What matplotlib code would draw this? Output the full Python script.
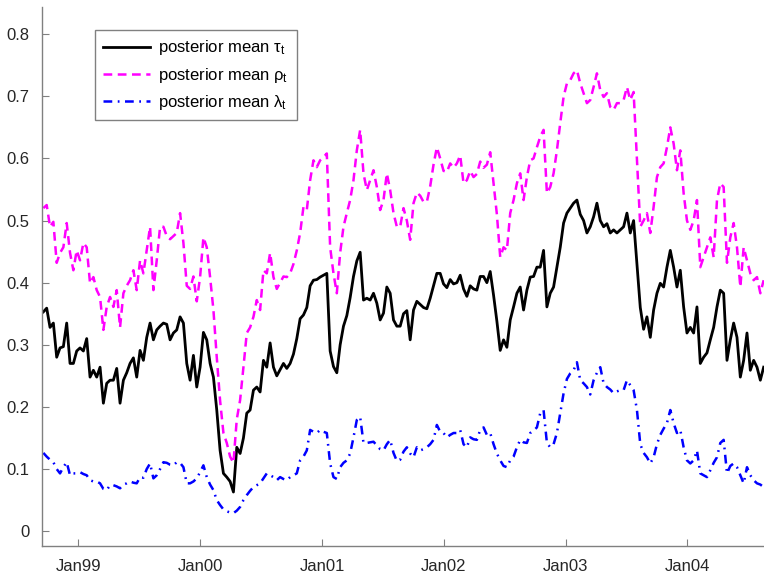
import numpy as np
import pandas as pd
import matplotlib
matplotlib.use("Agg")
import matplotlib.pyplot as plt
import matplotlib.dates as mdates

# posterior means, sampled every 10 days from mid Sep 1998
start = "1998-09-18"

tau = [0.353, 0.359, 0.328, 0.335, 0.280, 0.295, 0.297, 0.335, 0.270, 0.270,
       0.290, 0.295, 0.290, 0.310, 0.248, 0.259, 0.248, 0.264, 0.206, 0.238,
       0.243, 0.243, 0.262, 0.206, 0.243, 0.255, 0.270, 0.279, 0.248, 0.291,
       0.275, 0.312, 0.335, 0.308, 0.324, 0.330, 0.335, 0.333, 0.308, 0.319,
       0.324, 0.345, 0.335, 0.270, 0.243, 0.283, 0.232, 0.264, 0.320, 0.308,
       0.270, 0.248, 0.195, 0.130, 0.093, 0.087, 0.080, 0.063, 0.135, 0.125,
       0.150, 0.190, 0.195, 0.227, 0.232, 0.224, 0.275, 0.264, 0.303, 0.264,
       0.250, 0.260, 0.270, 0.262, 0.270, 0.285, 0.310, 0.342, 0.348, 0.360,
       0.395, 0.404, 0.405, 0.409, 0.412, 0.415, 0.290, 0.265, 0.255, 0.300,
       0.330, 0.347, 0.376, 0.410, 0.435, 0.449, 0.372, 0.375, 0.372, 0.383,
       0.367, 0.340, 0.351, 0.393, 0.383, 0.340, 0.330, 0.330, 0.350, 0.355,
       0.308, 0.356, 0.370, 0.365, 0.360, 0.358, 0.375, 0.395, 0.415, 0.415,
       0.398, 0.392, 0.405, 0.398, 0.400, 0.412, 0.390, 0.378, 0.395, 0.390,
       0.388, 0.410, 0.410, 0.400, 0.418, 0.380, 0.338, 0.291, 0.308, 0.296,
       0.340, 0.361, 0.383, 0.393, 0.356, 0.388, 0.409, 0.410, 0.425, 0.425,
       0.452, 0.361, 0.383, 0.393, 0.425, 0.457, 0.496, 0.512, 0.520, 0.528,
       0.533, 0.510, 0.500, 0.480, 0.490, 0.506, 0.528, 0.500, 0.490, 0.495,
       0.480, 0.485, 0.480, 0.485, 0.490, 0.512, 0.480, 0.500, 0.430, 0.360,
       0.325, 0.345, 0.312, 0.356, 0.383, 0.399, 0.393, 0.425, 0.452, 0.425,
       0.393, 0.420, 0.361, 0.319, 0.328, 0.319, 0.361, 0.270, 0.280, 0.287,
       0.308, 0.328, 0.361, 0.388, 0.383, 0.275, 0.308, 0.335, 0.312, 0.248,
       0.275, 0.319, 0.259, 0.275, 0.264, 0.243, 0.264]

rho = [0.520, 0.525, 0.490, 0.498, 0.432, 0.448, 0.457, 0.496, 0.448, 0.420,
       0.452, 0.436, 0.464, 0.457, 0.399, 0.409, 0.388, 0.377, 0.324, 0.361,
       0.377, 0.361, 0.388, 0.328, 0.383, 0.395, 0.404, 0.420, 0.388, 0.436,
       0.415, 0.452, 0.490, 0.388, 0.436, 0.490, 0.490, 0.475, 0.470, 0.475,
       0.480, 0.512, 0.464, 0.395, 0.390, 0.410, 0.370, 0.409, 0.473, 0.457,
       0.409, 0.356, 0.280, 0.210, 0.158, 0.142, 0.120, 0.110, 0.180, 0.211,
       0.264, 0.319, 0.328, 0.345, 0.372, 0.356, 0.420, 0.415, 0.448, 0.409,
       0.390, 0.400, 0.410, 0.409, 0.415, 0.430, 0.452, 0.480, 0.522, 0.517,
       0.565, 0.597, 0.586, 0.597, 0.602, 0.608, 0.457, 0.415, 0.383, 0.448,
       0.490, 0.512, 0.533, 0.565, 0.613, 0.646, 0.576, 0.549, 0.565, 0.581,
       0.554, 0.517, 0.533, 0.576, 0.549, 0.512, 0.490, 0.490, 0.520, 0.500,
       0.469, 0.528, 0.545, 0.540, 0.530, 0.530, 0.555, 0.590, 0.618, 0.600,
       0.580, 0.578, 0.592, 0.585, 0.592, 0.605, 0.560, 0.565, 0.580, 0.570,
       0.575, 0.595, 0.585, 0.590, 0.610, 0.560, 0.510, 0.441, 0.457, 0.452,
       0.512, 0.533, 0.560, 0.576, 0.533, 0.570, 0.597, 0.600, 0.618, 0.635,
       0.646, 0.544, 0.554, 0.576, 0.613, 0.657, 0.699, 0.721, 0.726, 0.737,
       0.742, 0.721, 0.705, 0.689, 0.694, 0.715, 0.737, 0.710, 0.699, 0.705,
       0.683, 0.678, 0.689, 0.689, 0.694, 0.715, 0.694, 0.707, 0.600, 0.490,
       0.500, 0.512, 0.480, 0.522, 0.570, 0.586, 0.592, 0.618, 0.650, 0.624,
       0.581, 0.613, 0.544, 0.500, 0.485, 0.500, 0.533, 0.425, 0.441, 0.457,
       0.473, 0.441, 0.533, 0.560, 0.554, 0.432, 0.473, 0.496, 0.457, 0.393,
       0.457, 0.436, 0.415, 0.404, 0.409, 0.383, 0.404]

lam = [0.126, 0.120, 0.115, 0.111, 0.100, 0.093, 0.103, 0.111, 0.090, 0.093,
       0.093, 0.095, 0.092, 0.090, 0.082, 0.080, 0.080, 0.077, 0.068, 0.066,
       0.074, 0.074, 0.072, 0.069, 0.075, 0.077, 0.080, 0.078, 0.077, 0.087,
       0.086, 0.100, 0.109, 0.085, 0.090, 0.100, 0.111, 0.110, 0.107, 0.106,
       0.111, 0.110, 0.103, 0.077, 0.077, 0.080, 0.085, 0.095, 0.106, 0.087,
       0.075, 0.066, 0.050, 0.042, 0.035, 0.032, 0.030, 0.029, 0.033, 0.039,
       0.050, 0.058, 0.065, 0.071, 0.074, 0.077, 0.085, 0.093, 0.090, 0.087,
       0.082, 0.087, 0.084, 0.082, 0.087, 0.090, 0.093, 0.114, 0.120, 0.130,
       0.163, 0.160, 0.158, 0.163, 0.160, 0.158, 0.109, 0.087, 0.084, 0.103,
       0.110, 0.114, 0.125, 0.151, 0.179, 0.184, 0.142, 0.142, 0.143, 0.144,
       0.138, 0.132, 0.130, 0.140, 0.147, 0.126, 0.113, 0.115, 0.128, 0.135,
       0.125, 0.119, 0.135, 0.130, 0.132, 0.135, 0.140, 0.147, 0.171, 0.160,
       0.158, 0.151, 0.155, 0.158, 0.158, 0.163, 0.140, 0.135, 0.151, 0.148,
       0.147, 0.163, 0.167, 0.155, 0.158, 0.140, 0.125, 0.114, 0.105, 0.103,
       0.114, 0.120, 0.135, 0.147, 0.143, 0.142, 0.158, 0.162, 0.167, 0.190,
       0.195, 0.142, 0.135, 0.140, 0.158, 0.190, 0.222, 0.245, 0.254, 0.259,
       0.272, 0.243, 0.238, 0.232, 0.220, 0.243, 0.255, 0.264, 0.238, 0.232,
       0.228, 0.222, 0.225, 0.227, 0.227, 0.243, 0.235, 0.227, 0.195, 0.140,
       0.126, 0.119, 0.109, 0.119, 0.140, 0.155, 0.165, 0.174, 0.195, 0.174,
       0.158, 0.163, 0.135, 0.114, 0.109, 0.114, 0.130, 0.093, 0.090, 0.087,
       0.098, 0.110, 0.119, 0.142, 0.147, 0.093, 0.105, 0.109, 0.103, 0.090,
       0.077, 0.103, 0.090, 0.082, 0.077, 0.075, 0.071]

labels = [r"posterior mean $\tau_t$", r"posterior mean $\rho_t$",
          r"posterior mean $\lambda_t$"]

plt.rcParams["font.family"] = ["Liberation Sans", "DejaVu Sans"]
plt.rcParams["mathtext.fontset"] = "custom"
plt.rcParams["mathtext.rm"] = "Liberation Sans"
plt.rcParams["mathtext.it"] = "Liberation Sans"

fig = plt.figure(figsize=(7.64, 5.73), dpi=100)
ax = fig.add_axes([0.055, 0.047, 0.945, 0.941])

def dates(n):
    return pd.date_range(start, periods=n, freq="10D")

ax.plot(dates(len(tau)), tau, color="black", lw=2.0, label=labels[0])
ax.plot(dates(len(rho)), rho, color="#ff00ff", lw=1.8, dashes=(3.5, 2.2), label=labels[1])
ax.plot(dates(len(lam)), lam, color="#0000ff", lw=1.8, dashes=(3.5, 2.2, 0.7, 2.2), label=labels[2])

ax.set_xlim(pd.Timestamp("1998-09-14"), pd.Timestamp("2004-08-18"))
ax.set_ylim(-0.024, 0.844)
ax.set_yticks(np.arange(0, 0.81, 0.1))
ax.set_yticklabels(["0", "0.1", "0.2", "0.3", "0.4", "0.5", "0.6", "0.7", "0.8"])
ax.xaxis.set_major_locator(mdates.YearLocator(month=1, day=1))
ax.xaxis.set_major_formatter(mdates.DateFormatter("%b%y"))

for side in ["top", "right"]:
    ax.spines[side].set_visible(False)
for side in ["left", "bottom"]:
    ax.spines[side].set_color("#808080")
    ax.spines[side].set_linewidth(1.0)
ax.tick_params(direction="in", length=5, color="#808080", labelsize=12,
               labelcolor="#262626")
ax.tick_params(axis="y", pad=9)
ax.tick_params(axis="x", pad=9)

leg = ax.legend(loc="upper left", bbox_to_anchor=(0.073, 0.957), borderaxespad=0,
                fontsize=12, handlelength=2.8, handletextpad=0.5,
                labelspacing=0.5, fancybox=False, framealpha=1,
                edgecolor="#808080", borderpad=0.5)
leg.get_frame().set_linewidth(1.0)

fig.savefig("out.png", dpi=100)
